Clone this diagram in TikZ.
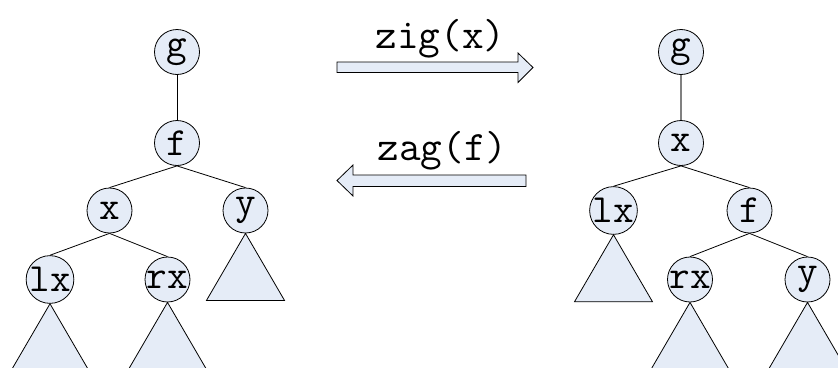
\documentclass[tikz,border=0pt]{standalone}
\begin{document}
\begin{tikzpicture}[x=1pt,y=-1pt,
  tnode/.style={circle,draw=black,line width=0.8pt,fill=boxfill,minimum size=45pt,inner sep=0pt,font=\fontsize{40}{40}\selectfont\ttfamily},
  edge/.style={draw=black,line width=0.8pt},
  gedge/.style={draw=gray,line width=1.3pt},
  tri/.style={draw=black,line width=0.8pt,fill=boxfill,line join=miter},
  barrow/.style={draw=black,line width=0.8pt,fill=boxfill},
  lbl/.style={font=\fontsize{42}{42}\selectfont\ttfamily,inner sep=0pt,anchor=base}
]
\definecolor{boxfill}{RGB}{229,236,247}
\useasboundingbox (0,0) rectangle (838,367);
\clip (0,0) rectangle (838,367);
% left tree
\node[tnode] (g1) at (177,52) {g};
\node[tnode] (f1) at (177,143) {f};
\node[tnode] (x1) at (109.5,210.5) {x};
\node[tnode] (y1) at (245.5,210.5) {y};
\node[tnode] (lx1) at (50,279.5) {lx};
\node[tnode] (rx1) at (167.5,279.5) {rx};
\draw[edge] (g1.south) -- (f1.north);
\draw[edge] (f1.south) -- (x1.north);
\draw[edge] (f1.south) -- (y1.north);
\draw[edge] (x1.south) -- (lx1.north);
\draw[edge] (x1.south) -- (rx1.north);
\draw[tri] (y1.south) -- ++(39,67) -- ++(-78,0) -- cycle;
\draw[tri] (lx1.south) -- ++(39,67) -- ++(-78,0) -- cycle;
\draw[tri] (rx1.south) -- ++(39,67) -- ++(-78,0) -- cycle;
% right tree
\node[tnode] (g2) at (681,52) {g};
\node[tnode] (x2) at (681,143) {x};
\node[tnode] (lx2) at (613.5,210.5) {lx};
\node[tnode] (f2) at (749.5,210.5) {f};
\node[tnode] (rx2) at (690,279.5) {rx};
\node[tnode] (y2) at (807.5,279.5) {y};
\draw[gedge] (g2.south) -- (x2.north);
\draw[edge] (x2.south) -- (lx2.north);
\draw[edge] (x2.south) -- (f2.north);
\draw[edge] (f2.south) -- (rx2.north);
\draw[edge] (f2.south) -- (y2.north);
\draw[tri] (lx2.south) -- ++(39,67) -- ++(-78,0) -- cycle;
\draw[tri] (rx2.south) -- ++(39,67) -- ++(-78,0) -- cycle;
\draw[tri] (y2.south) -- ++(39,67) -- ++(-78,0) -- cycle;
% arrows
\draw[barrow] (337,62) -- (518,62) -- (518,53) -- (533,67.5) -- (518,82.5) -- (518,72.5) -- (337,72.5) -- cycle;
\draw[barrow] (526,175) -- (353,175) -- (353,165) -- (337,180.5) -- (353,196) -- (353,186.5) -- (526,186.5) -- cycle;
\node[lbl] (zig) at (440.5,48) {zig(x)};
\node[lbl] (zag) at (442.5,160) {zag(f)};
\end{tikzpicture}
\end{document}
